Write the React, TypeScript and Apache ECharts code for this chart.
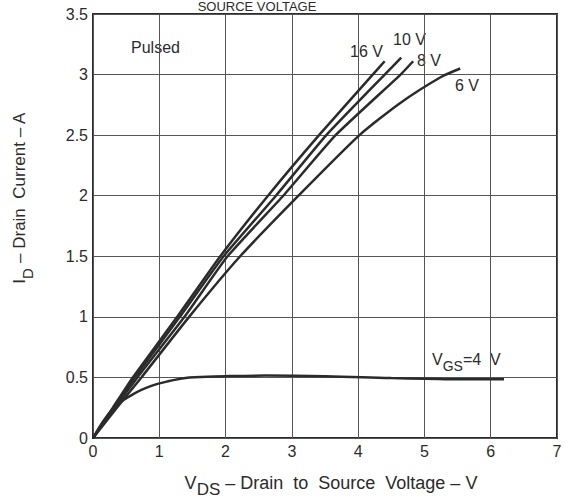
import React, { useEffect, useRef } from "react";
import * as echarts from "echarts";

// Drain current (A) vs drain-to-source voltage (V), pulsed
const vgs16: [number, number][] = [[0, 0], [0.3, 0.25], [0.6, 0.5], [1.27, 1.0], [1.92, 1.5], [2.64, 2.0], [3.41, 2.5], [4.22, 3.0], [4.4, 3.11]];
const vgs10: [number, number][] = [[0, 0], [0.31, 0.25], [0.63, 0.5], [1.31, 1.0], [1.97, 1.5], [2.76, 2.0], [3.52, 2.5], [4.4, 3.0], [4.65, 3.14]];
const vgs8: [number, number][] = [[0, 0], [0.33, 0.25], [0.67, 0.5], [1.38, 1.0], [2.03, 1.5], [2.87, 2.0], [3.66, 2.5], [4.64, 3.0], [4.83, 3.11]];
const vgs6: [number, number][] = [[0, 0], [0.36, 0.25], [0.73, 0.5], [1.45, 1.0], [2.22, 1.5], [3.1, 2.0], [4.02, 2.5], [4.62, 2.76], [5.25, 2.98], [5.54, 3.05]];
const vgs4: [number, number][] = [[0, 0], [0.3, 0.24], [0.6, 0.36], [0.88, 0.43], [1.15, 0.47], [1.45, 0.5], [2.0, 0.51], [2.6, 0.515], [3.5, 0.51], [4.5, 0.495], [5.0, 0.49], [5.6, 0.485], [6.2, 0.485]];

const xTicks = [0, 1, 2, 3, 4, 5, 6, 7];
const yTicks = [0, 0.5, 1, 1.5, 2, 2.5, 3, 3.5];

const curves = [
  { name: "16 V", data: vgs16, smooth: 0.15 },
  { name: "10 V", data: vgs10, smooth: 0.15 },
  { name: "8 V", data: vgs8, smooth: 0.15 },
  { name: "6 V", data: vgs6, smooth: 0.2 },
  { name: "4 V", data: vgs4, smooth: 0.4 },
];

const FONT = "Liberation Sans, Arial, sans-serif";
const INK = "#2b2b2b";

export default function App() {
  const ref = useRef<HTMLDivElement>(null);
  useEffect(() => {
    if (!ref.current) return;
    const chart = echarts.init(ref.current, null, { renderer: "svg" });
    chart.setOption({
      animation: false,
      backgroundColor: "#ffffff",
      grid: { left: 93, right: 8, top: 14, bottom: 61, show: true, borderColor: INK, borderWidth: 2 },
      xAxis: {
        type: "value",
        min: xTicks[0],
        max: xTicks[xTicks.length - 1],
        interval: 1,
        axisLine: { show: false },
        axisTick: { show: false },
        axisLabel: { fontSize: 16, fontFamily: FONT, color: INK, margin: 5 },
        splitLine: { show: true, lineStyle: { color: "#555", width: 1 } },
      },
      yAxis: {
        type: "value",
        min: yTicks[0],
        max: yTicks[yTicks.length - 1],
        interval: 0.5,
        axisLine: { show: false },
        axisTick: { show: false },
        axisLabel: { fontSize: 16, fontFamily: FONT, color: INK, margin: 5 },
        splitLine: { show: true, lineStyle: { color: "#555", width: 1 } },
      },
      series: curves.map((c) => ({
        type: "line",
        name: c.name,
        data: c.data,
        smooth: c.smooth,
        showSymbol: false,
        lineStyle: { color: INK, width: 2.5 },
      })),
      graphic: [
        { type: "text", x: 257, y: 0, style: { text: "SOURCE VOLTAGE", font: `13px ${FONT}`, fill: INK, align: "center", verticalAlign: "top" } },
        { type: "text", x: 131, y: 47, style: { text: "Pulsed", font: `16px ${FONT}`, fill: INK, align: "left", verticalAlign: "middle" } },
        { type: "text", x: 350, y: 51, style: { text: "16 V", font: `16px ${FONT}`, fill: INK, align: "left", verticalAlign: "middle" } },
        { type: "text", x: 393, y: 39, style: { text: "10 V", font: `16px ${FONT}`, fill: INK, align: "left", verticalAlign: "middle" } },
        { type: "text", x: 417, y: 60, style: { text: "8 V", font: `16px ${FONT}`, fill: INK, align: "left", verticalAlign: "middle" } },
        { type: "text", x: 455, y: 85, style: { text: "6 V", font: `16px ${FONT}`, fill: INK, align: "left", verticalAlign: "middle" } },
        {
          type: "text", x: 432, y: 362,
          style: {
            text: "{m|V}{s|GS}{m|=4  V}",
            rich: {
              m: { fontSize: 16, fontFamily: FONT, color: INK, lineHeight: 22, verticalAlign: "top" },
              s: { fontSize: 14, fontFamily: FONT, color: INK, lineHeight: 22, verticalAlign: "bottom" },
            },
            align: "left", verticalAlign: "middle", fill: INK,
          },
        },
        {
          type: "text", x: 331, y: 486,
          style: {
            text: "{m|V}{s|DS}{m| – Drain  to  Source  Voltage – V}",
            rich: {
              m: { fontSize: 18, fontFamily: FONT, color: INK, lineHeight: 24, verticalAlign: "top" },
              s: { fontSize: 17, fontFamily: FONT, color: INK, lineHeight: 24, verticalAlign: "bottom" },
            },
            align: "center", verticalAlign: "middle", fill: INK,
          },
        },
        {
          type: "text", x: 23, y: 198, rotation: Math.PI / 2,
          style: {
            text: "{s|I}{t|D}{s| – Drain  Current – A}",
            rich: {
              s: { fontSize: 17, fontFamily: FONT, color: INK, lineHeight: 24, verticalAlign: "top" },
              t: { fontSize: 15, fontFamily: FONT, color: INK, lineHeight: 24, verticalAlign: "bottom" },
            },
            align: "center", verticalAlign: "middle", fill: INK,
          },
        },
      ],
    });
    return () => chart.dispose();
  }, []);
  return <div ref={ref} style={{ position: "fixed", left: 0, top: 0, width: 565, height: 499 }} />;
}
